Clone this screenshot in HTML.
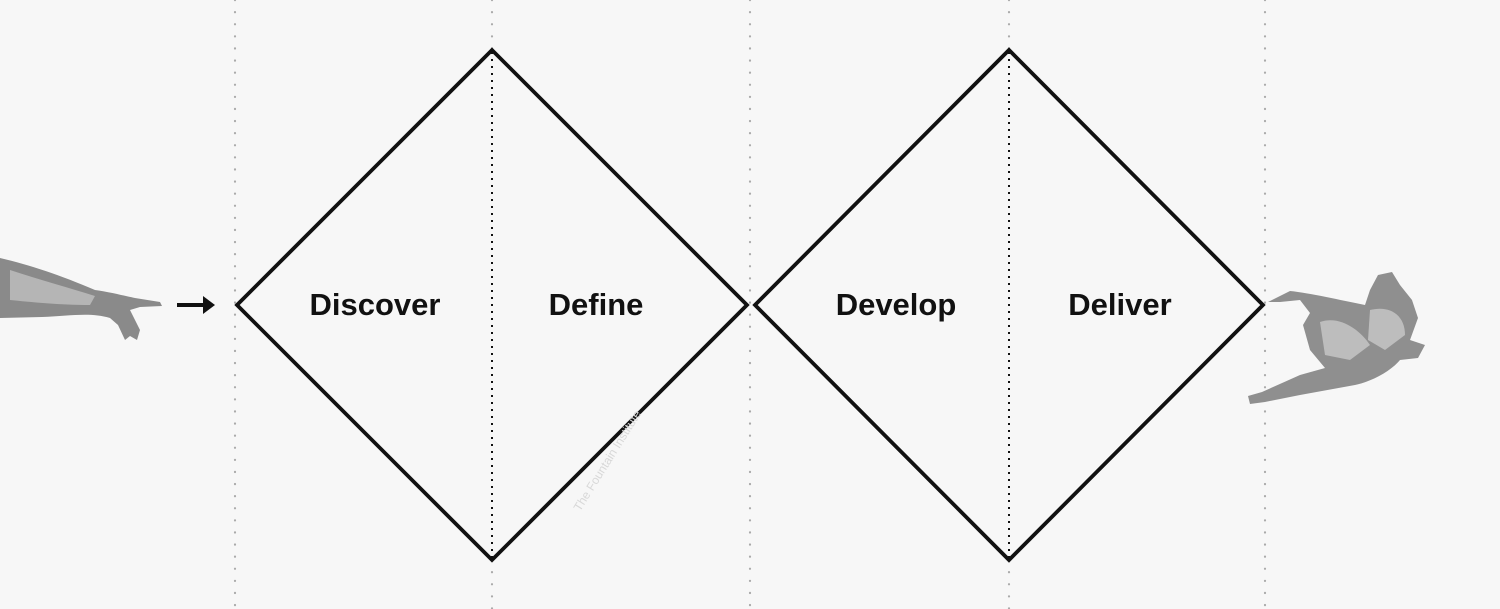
<!DOCTYPE html>
<html><head><style>
html,body{margin:0;padding:0;background:#f7f7f7;}
svg{display:block}
text{font-family:"Liberation Sans",Arial,sans-serif;}
</style></head><body>
<svg width="1500" height="609" viewBox="0 0 1500 609">
<rect width="1500" height="609" fill="#f7f7f7"/>
<g stroke="#aaa" stroke-width="2.2" stroke-dasharray="0.1 12" stroke-linecap="round">
<line x1="235" y1="0" x2="235" y2="609"/>
<line x1="492" y1="0" x2="492" y2="50"/>
<line x1="492" y1="560" x2="492" y2="609"/>
<line x1="750" y1="0" x2="750" y2="609"/>
<line x1="1009" y1="0" x2="1009" y2="50"/>
<line x1="1009" y1="560" x2="1009" y2="609"/>
<line x1="1265" y1="0" x2="1265" y2="609"/>
</g>
<g stroke="#111" stroke-width="2" stroke-dasharray="2 5">
<line x1="492" y1="52" x2="492" y2="558"/>
<line x1="1009" y1="52" x2="1009" y2="558"/>
</g>
<g fill="none" stroke="#111" stroke-width="3.8" stroke-linejoin="miter">
<polygon points="237,305 492,50 747,305 492,560"/>
<polygon points="755,305 1009,50 1263,305 1009,560"/>
</g>
<g font-weight="bold" font-size="31" fill="#111" text-anchor="middle">
<text x="375" y="315">Discover</text>
<text x="596" y="315">Define</text>
<text x="896" y="315">Develop</text>
<text x="1120" y="315">Deliver</text>
</g>
<text x="0" y="0" font-size="12" fill="#d8d8d8" transform="translate(580,512) rotate(-58)">The Fountain Institute</text>
<line x1="177" y1="305" x2="205" y2="305" stroke="#111" stroke-width="4"/>
<polygon points="203,296 215,305 203,314" fill="#111"/>
<g fill="#8a8a8a">
<path d="M0,258 C30,265 60,275 95,290 C110,292 125,296 135,298 L160,302 L162,306 L140,307 L130,310 L140,330 L137,340 L130,336 L125,340 L118,325 L110,318 C90,312 70,316 42,317 L0,318 Z"/>
</g>
<g fill="#b5b5b5"><path d="M10,270 C40,280 70,288 95,296 L90,305 C60,305 30,302 10,300 Z"/></g>
<g fill="#8f8f8f">
<path d="M1268,302 L1290,291 C1310,293 1340,300 1365,305 L1370,290 L1378,275 L1392,272 L1400,285 L1412,300 L1418,318 L1410,340 L1425,345 L1418,358 L1400,360 C1390,372 1370,382 1355,385 L1300,395 L1265,402 L1250,404 L1248,396 L1262,392 L1300,375 L1325,368 L1310,350 L1303,325 L1310,313 L1300,300 L1280,302 Z"/>
</g>
<g fill="#bdbdbd"><path d="M1320,322 C1340,315 1360,330 1370,345 L1350,360 L1325,355 Z"/><path d="M1370,310 C1390,305 1405,315 1405,335 L1385,350 L1368,340 Z"/></g>
</svg>
</body></html>
